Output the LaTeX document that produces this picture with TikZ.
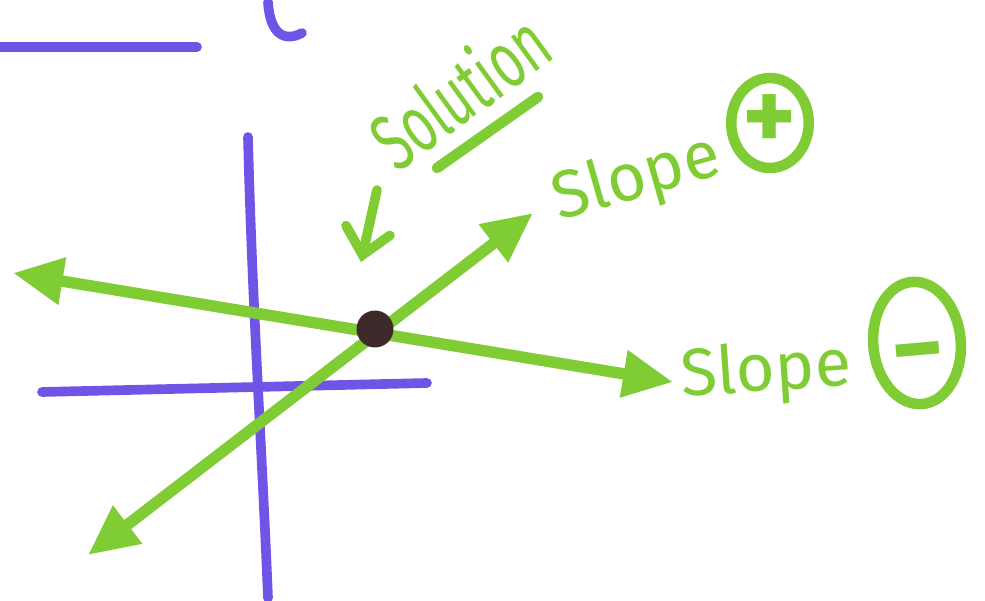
\documentclass[tikz,border=0pt]{standalone}
\usepackage{fontspec}
\setmainfont{Fira Sans}
\usetikzlibrary{arrows.meta,shapes.geometric,positioning}
\definecolor{markgreen}{RGB}{128,204,52}
\definecolor{markpurple}{RGB}{112,84,230}
\definecolor{dotbrown}{RGB}{62,42,42}
\tikzset{
  axisline/.style={markpurple, line width=5.5pt, line cap=round},
  graphline/.style={markgreen, line width=6.5pt,
    {Triangle[length=1cm,width=0.9cm]}-{Triangle[length=1cm,width=0.9cm]}},
  marktext/.style={text=markgreen, font=\fontsize{38}{38}\selectfont, inner sep=0pt},
  signmark/.style={ellipse, draw=markgreen, line width=6pt, inner sep=0pt,
    text=markgreen, font=\fontsize{58}{58}\selectfont\bfseries}
}
\begin{document}
\begin{tikzpicture}[x=0.02cm, y=-0.02cm]
    \useasboundingbox (0,0) rectangle (985,601);

    % Axes (purple)
    \draw[axisline] (0,47) -- (197,47);
    \draw[axisline] (268,2) .. controls (270,35) and (285,42) .. (302,33);
    \draw[axisline] (248,137) .. controls (252,300) and (262,450) .. (268,598);
    \draw[axisline] (42,392) -- (427,383);

    % Line ends
    \coordinate (negL) at (13,273);
    \coordinate (negR) at (673,382);
    \coordinate (posL) at (88,555);
    \coordinate (posR) at (533,213);

    % Lines (green)
    \draw[graphline] (negL) -- (negR);
    \draw[graphline] (posL) -- (posR);

    % Intersection point
    \node[circle, fill=dotbrown, minimum size=0.74cm, inner sep=0pt] (sol) at (375,329) {};

    % Solution label
    \node[marktext, font=\fontsize{46}{46}\selectfont, rotate=36] (soltext) at (459,90) {\scalebox{0.64}[1]{Solution}};
    \coordinate (ulA) at (437,168);
    \coordinate (ulB) at (538,97);
    \draw[markgreen, line width=6pt, line cap=round] (ulA) -- (ulB);
    \coordinate (solTail) at (377,190);
    \coordinate (solHead) at (361,262);
    \draw[markgreen, line width=5.5pt, line cap=round,
      -{Straight Barb[length=0.5cm,width=0.9cm,line cap=round]}] (solTail) -- (solHead);

    % Slope labels
    \node[marktext, rotate=16] (slopepos) at (637,180) {Slope};
    \node[signmark, minimum width=1.55cm, minimum height=1.8cm] (plus) at (770,123) {+};
    \node[marktext, rotate=4] (slopeneg) at (766,373) {Slope};
    \node[signmark, minimum width=1.75cm, minimum height=2.45cm, rotate=5] (minus) at (917,343) {\raisebox{-23pt}[0pt][0pt]{−}};
\end{tikzpicture}
\end{document}
